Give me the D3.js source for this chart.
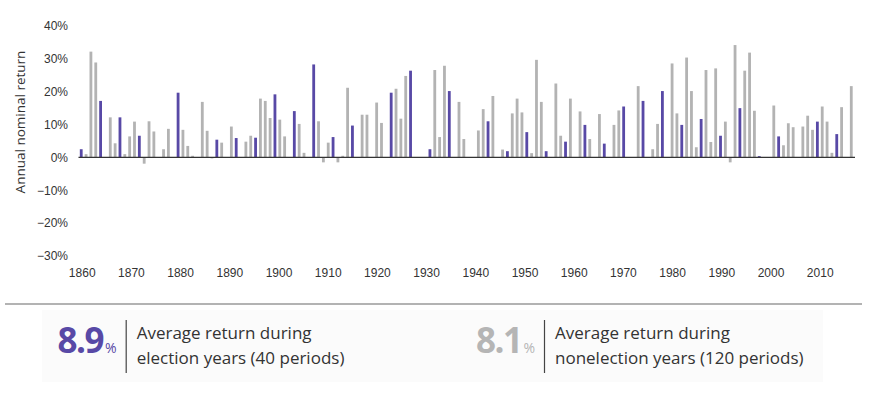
<!DOCTYPE html>
<html lang="en">
<head>
    <meta charset="UTF-8">
    <title>Election year returns</title>
    <script src="https://d3js.org/d3.v7.min.js"></script>
    <style>
        body { margin: 0; background: #fff; }
        svg { display: block; font-family: "Open Sans", sans-serif; }
        .axis text { fill: #333; font-size: 12px; }
    </style>
</head>
<body>
<div id="chart"></div>
<script>
    // years 1860..2019, null = no bar drawn
    var startYear = 1860;
    var returns = [
        2.5, 1, 32.2, 28.9, 17.2, null, 12.2, 4.3, 12.2, 1,          // 1860s
        6.4, 10.9, 6.6, -1.9, 11, 7.9, null, 2.5, 8.7, null,         // 1870s
        19.7, 8.4, 3.5, 0.5, null, 16.9, 8.1, -0.3, 5.4, 4.5,        // 1880s
        null, 9.4, 5.9, null, 4.8, 6.6, 6.0, 17.9, 17.2, 12,         // 1890s
        19.2, 11.5, 6.4, null, 14.1, 10.2, 1.4, null, 28.3, 11,      // 1900s
        -1.5, 4.5, 6.2, -1.5, 0.5, 21.2, 9.7, null, 13, 13,          // 1910s
        null, 16.7, 10.5, null, 19.7, 20.9, 11.8, 24.8, 26.4, null,  // 1920s
        null, null, 2.5, 26.6, 6.2, 27.9, 20.2, null, 16.9, 5.6,     // 1930s
        null, null, 8.2, 14.7, 11, 18.7, null, 2.4, 1.9, 13.4,       // 1940s
        17.9, 13.7, 7.7, 1.3, 29.7, 16.9, 1.9, null, 22.5, 6.6,      // 1950s
        4.8, 17.9, null, 14, 9.9, 5.6, null, 13.2, 4.2, null,        // 1960s
        9.9, 14.3, 15.5, null, null, 21.7, 17.2, null, 2.5, 10.2,    // 1970s
        20.2, null, 28.6, 13.4, 9.9, 30.4, 20.2, 3.1, 11.7, 26.6,    // 1980s
        4.7, 27.1, 6.6, 10.9, -1.5, 34.2, 15, 26.4, 31.9, 14.2,      // 1990s
        0.4, null, null, 15.8, 6.4, 3.7, 10.4, 9.2, null, 9.4,       // 2000s
        12.7, 8.4, 10.9, 15.5, 10.9, 1.4, 7.1, 15.3, null, 21.7      // 2010s
    ];
    var years = returns.map(function (d, i) { return startYear + i; });
    var yTicks = [-30, -20, -10, 0, 10, 20, 30, 40];
    var xTicks = [1860, 1870, 1880, 1890, 1900, 1910, 1920, 1930, 1940, 1950, 1960, 1970, 1980, 1990, 2000, 2010];
    var summary = [
        { value: '8.9', line1: 'Average return during', line2: 'election years (40 periods)' },
        { value: '8.1', line1: 'Average return during', line2: 'nonelection years (120 periods)' }
    ];

    var purple = '#5849a6';
    var grey = '#b3b3b3';
    var width = 872, height = 393;

    var svg = d3.select('#chart').append('svg')
        .attr('width', width)
        .attr('height', height);

    var x = d3.scaleBand()
        .domain(years)
        .range([78.8, 853.7])
        .paddingInner(0.42)
        .paddingOuter(0.21);

    // tick labels sit on their own (slightly wider) spacing
    var xLabel = d3.scaleLinear()
        .domain([1860, 2010])
        .range([81.7, 819.7]);

    var y = d3.scaleLinear()
        .domain([-30, 40])
        .range([256.0, 26.0]);

    var data = years.map(function (yr, i) { return { year: yr, v: returns[i] }; })
        .filter(function (d) { return d.v !== null; });

    svg.append('g')
        .selectAll('rect')
        .data(data)
        .enter()
        .append('rect')
        .attr('x', function (d) { return x(d.year); })
        .attr('width', x.bandwidth())
        .attr('y', function (d) { return y(Math.max(0, d.v)); })
        .attr('height', function (d) { return Math.abs(y(d.v) - y(0)); })
        .attr('fill', function (d) { return d.year % 4 === 0 ? purple : grey; });

    // baseline
    svg.append('line')
        .attr('x1', 78.5).attr('x2', 855)
        .attr('y1', y(0)).attr('y2', y(0))
        .attr('stroke', '#333')
        .attr('stroke-width', 1.2);

    var yAxis = d3.axisLeft(y)
        .tickValues(yTicks)
        .tickSize(0)
        .tickPadding(0)
        .tickFormat(function (d) { return (d < 0 ? '\u2212' + Math.abs(d) : d) + '%'; });

    svg.append('g')
        .attr('class', 'axis')
        .attr('transform', 'translate(68,0)')
        .call(yAxis)
        .call(function (g) { g.select('.domain').remove(); });

    var xAxis = d3.axisBottom(xLabel)
        .tickValues(xTicks)
        .tickSize(0)
        .tickPadding(3)
        .tickFormat(d3.format('d'));

    svg.append('g')
        .attr('class', 'axis')
        .attr('transform', 'translate(0,265)')
        .call(xAxis)
        .call(function (g) { g.select('.domain').remove(); });

    svg.append('text')
        .attr('transform', 'translate(25,122) rotate(-90)')
        .attr('text-anchor', 'middle')
        .attr('fill', '#333')
        .style('font-size', '13.5px')
        .text('Annual nominal return');

    // bottom summary
    svg.append('line')
        .attr('x1', 5).attr('x2', 862)
        .attr('y1', 304).attr('y2', 304)
        .attr('stroke', '#9a9a9a')
        .attr('stroke-width', 1.5);

    svg.append('rect')
        .attr('x', 42).attr('y', 310)
        .attr('width', 781).attr('height', 72)
        .attr('fill', '#fbfbfb');

    var blockX = [116.7, 535];
    var blockColor = [purple, '#b5b5b5'];

    summary.forEach(function (s, i) {
        var bx = blockX[i];
        var t = svg.append('text')
            .attr('x', bx)
            .attr('y', 353)
            .attr('text-anchor', 'end')
            .attr('fill', blockColor[i]);
        t.append('tspan')
            .style('font-size', '35px')
            .style('font-weight', 700)
            .style('letter-spacing', '-1.5px')
            .text(s.value);
        t.append('tspan')
            .attr('dx', 2)
            .style('font-size', '14px')
            .text('%');

        svg.append('line')
            .attr('x1', bx + 9.5).attr('x2', bx + 9.5)
            .attr('y1', 320).attr('y2', 373)
            .attr('stroke', '#444')
            .attr('stroke-width', 1.2);

        svg.append('text')
            .attr('x', bx + 20)
            .attr('y', 339)
            .attr('fill', '#333')
            .style('font-size', '17px')
            .text(s.line1);
        svg.append('text')
            .attr('x', bx + 20)
            .attr('y', 364)
            .attr('fill', '#333')
            .style('font-size', '17px')
            .text(s.line2);
    });
</script>
</body>
</html>
